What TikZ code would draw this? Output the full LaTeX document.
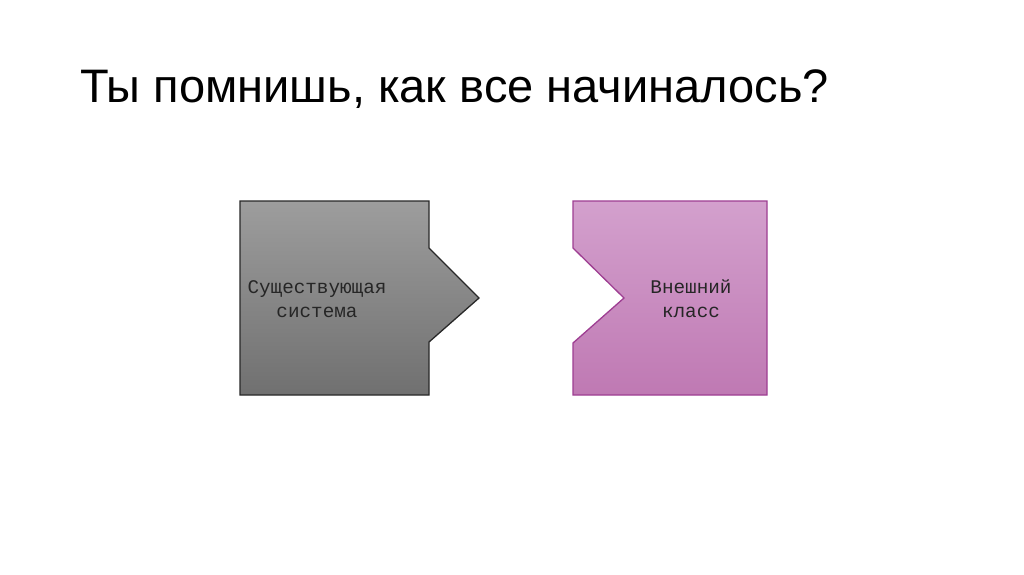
\documentclass[tikz,border=0pt]{standalone}
\usepackage{fontspec}
\setmainfont{Liberation Sans}
\newfontfamily\boxfont{Liberation Mono}
\definecolor{sysgraytop}{RGB}{157,157,157}
\definecolor{sysgraybot}{RGB}{112,112,112}
\definecolor{sysborder}{RGB}{40,40,40}
\definecolor{extpinktop}{RGB}{211,160,205}
\definecolor{extpinkbot}{RGB}{191,121,179}
\definecolor{extborder}{RGB}{158,62,146}
\tikzset{
  headline/.style={anchor=base west, inner sep=0pt, font=\fontsize{47}{56}\selectfont},
  boxlabel/.style={align=center, inner sep=0pt, font=\boxfont\fontsize{19.3}{24}\selectfont},
  piece/.style={line width=1.3pt, line join=miter}
}
\begin{document}
\begin{tikzpicture}[x=1pt,y=-1pt]
  \useasboundingbox (0,0) rectangle (1024,574);
  \fill [white] (0,0) rectangle (1024,574);
  % title
  \node [headline] (title) at (80,102.7) {Ты помнишь, как все начиналось?};
  % existing system, with tab
  \draw [piece, draw=sysborder, top color=sysgraytop, bottom color=sysgraybot]
    (240,201) -- (429,201) -- (429,248) -- (479,298) -- (429,342)
    -- (429,395) -- (240,395) -- cycle;
  \node [boxlabel, text=black!85] (system) at (317,299) {Существующая\\система};
  % external class, with notch
  \draw [piece, draw=extborder, top color=extpinktop, bottom color=extpinkbot]
    (573,201) -- (767,201) -- (767,395) -- (573,395) -- (573,343)
    -- (624,298) -- (573,248) -- cycle;
  \node [boxlabel, text=black!85] (external) at (691,299) {Внешний\\класс};
\end{tikzpicture}
\end{document}
